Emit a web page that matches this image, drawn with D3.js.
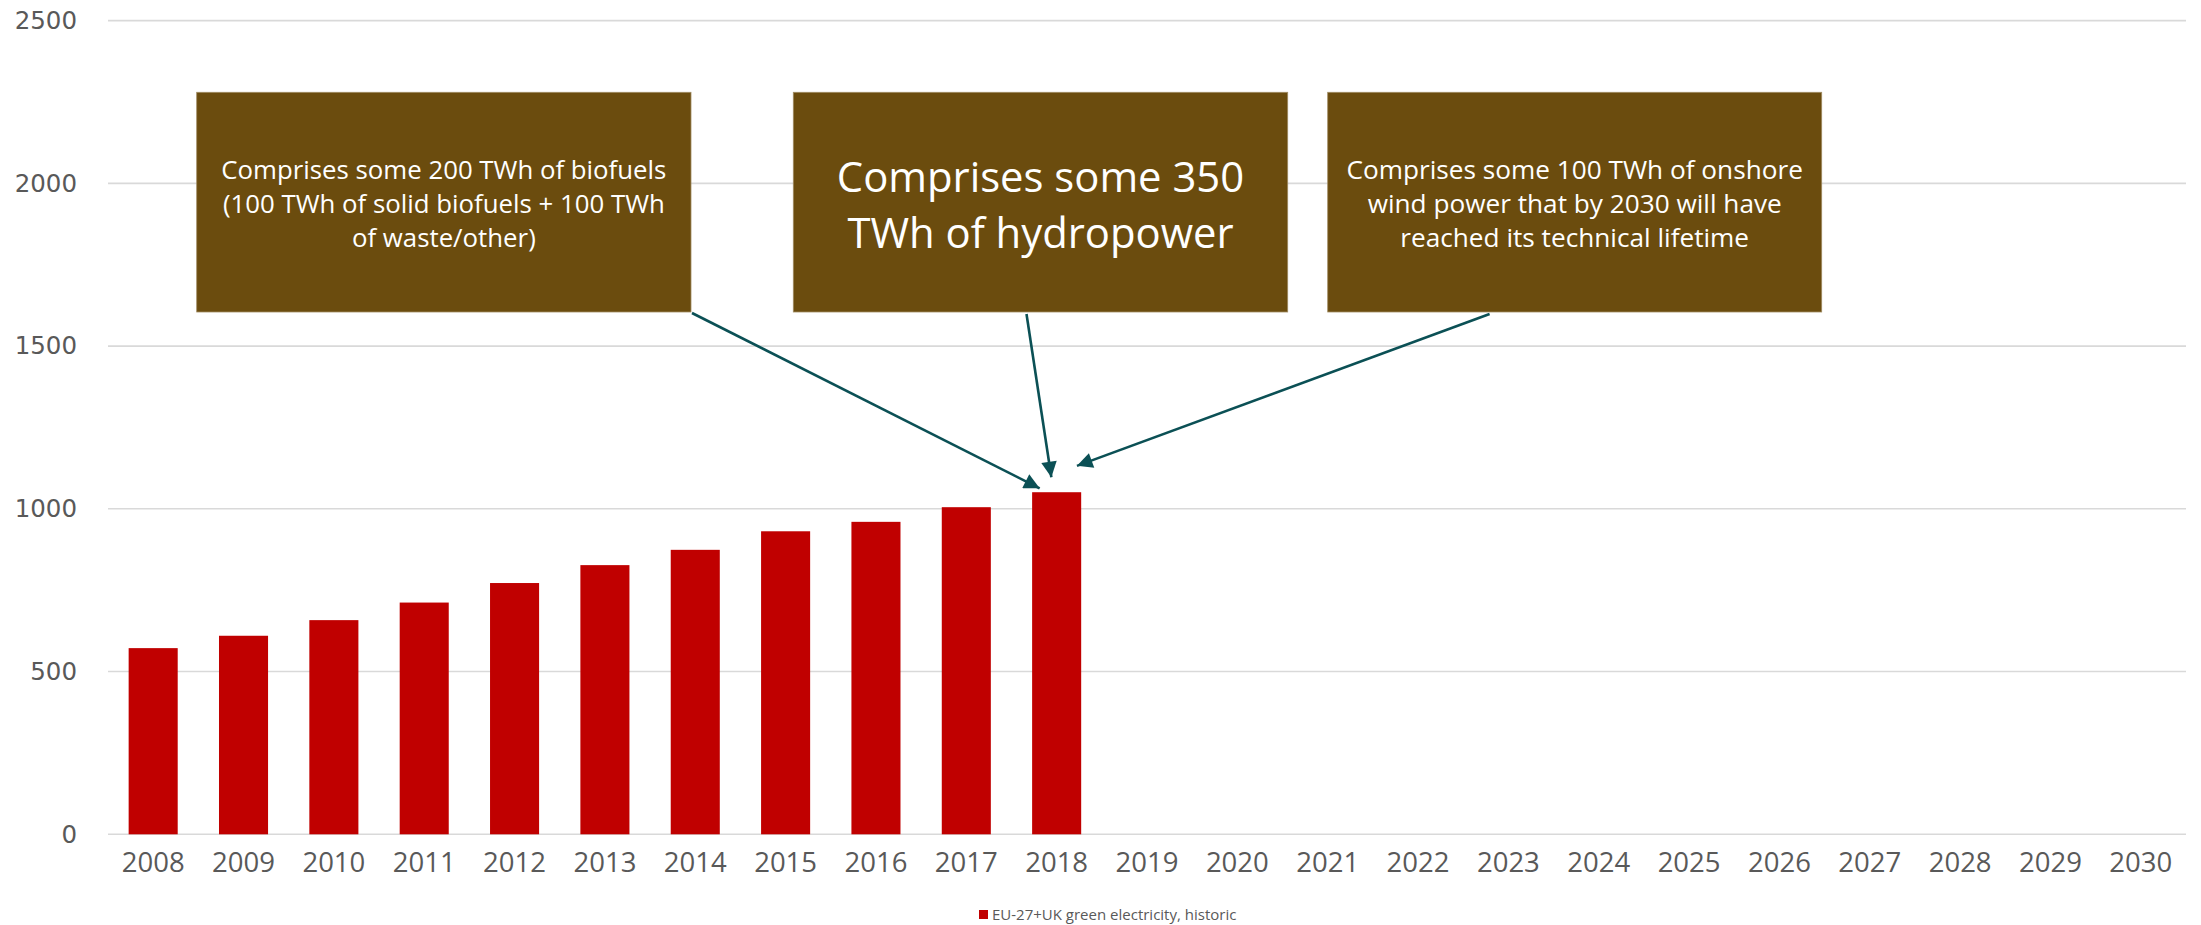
<!DOCTYPE html>
<html>
<head>
<meta charset="utf-8">
<script src="https://cdn.jsdelivr.net/npm/d3@7"></script>
<style>
  html, body { margin: 0; padding: 0; background: #ffffff; }
  svg { display: block; }
</style>
</head>
<body>
<svg id="chart" width="2201" height="925"></svg>
<script>
// Years on the category axis (historic + outlook to 2030)
const years = ["2008","2009","2010","2011","2012","2013","2014","2015","2016","2017","2018",
               "2019","2020","2021","2022","2023","2024","2025","2026","2027","2028","2029","2030"];
// EU-27+UK green electricity, historic (TWh)
const historicYears = ["2008","2009","2010","2011","2012","2013","2014","2015","2016","2017","2018"];
const historicValues = [572, 610, 658, 712, 772, 827, 874, 931, 960, 1005, 1051];
// Value axis ticks (TWh)
const yTicks = [0, 500, 1000, 1500, 2000, 2500];
const seriesName = "EU-27+UK green electricity, historic";

// Call-out notes and where their arrows point (year, TWh)
const noteTexts = [
  ["Comprises some 200 TWh of biofuels", "(100 TWh of solid biofuels + 100 TWh", "of waste/other)"],
  ["Comprises some 350", "TWh of hydropower"],
  ["Comprises some 100 TWh of onshore", "wind power that by 2030 will have", "reached its technical lifetime"]
];
const noteTargetYear = ["2018", "2018", "2018"];
const noteTargetValue = [1063, 1097, 1132];

// ---- layout ----
const svg = d3.select("#chart");
const plot = { left: 108, right: 2186, top: 20.6, bottom: 834.3 };
const barColor = "#c00000";
const noteFill = "#6b4c0e";
const arrowColor = "#0b5055";

const x = d3.scaleBand()
  .domain(years)
  .range([plot.left, plot.right])
  .paddingInner(0.457)
  .paddingOuter(0.2285);

const y = d3.scaleLinear()
  .domain([0, 2500])
  .range([plot.bottom, plot.top]);

// gridlines
svg.append("g")
  .selectAll("line")
  .data(yTicks)
  .join("line")
  .attr("x1", plot.left)
  .attr("x2", plot.right)
  .attr("y1", d => y(d))
  .attr("y2", d => y(d))
  .attr("stroke", "#d9d9d9")
  .attr("stroke-width", 1.6);

// y axis labels
const yAxis = svg.append("g")
  .attr("transform", `translate(${plot.left - 31},0)`)
  .call(d3.axisLeft(y).tickValues(yTicks).tickSize(0).tickPadding(0).tickFormat(d3.format("d")));
yAxis.select(".domain").remove();
yAxis.selectAll("text")
  .attr("font-family", "'DejaVu Sans', sans-serif")
  .attr("font-size", 24.5)
  .attr("fill", "#595959");

// x axis labels
const xAxis = svg.append("g")
  .attr("transform", `translate(0,${plot.bottom})`)
  .call(d3.axisBottom(x).tickSize(0).tickPadding(18));
xAxis.select(".domain").remove();
xAxis.selectAll("text")
  .attr("font-family", "'Open Sans', sans-serif")
  .attr("font-size", 27.5)
  .attr("fill", "#595959");

// bars
svg.append("g")
  .selectAll("rect")
  .data(historicYears.map((yr, i) => ({ year: yr, value: historicValues[i] })))
  .join("rect")
  .attr("x", d => x(d.year))
  .attr("width", x.bandwidth())
  .attr("y", d => y(d.value))
  .attr("height", d => y(0) - y(d.value))
  .attr("fill", barColor);

// arrow marker
svg.append("defs").append("marker")
  .attr("id", "head")
  .attr("viewBox", "0 0 10 10")
  .attr("refX", 10)
  .attr("refY", 5)
  .attr("markerWidth", 7)
  .attr("markerHeight", 6)
  .attr("markerUnits", "strokeWidth")
  .attr("orient", "auto")
  .append("path")
  .attr("d", "M0,0 L10,5 L0,10 Z")
  .attr("fill", arrowColor);

// call-out boxes (pixel layout)
const noteBoxes = [
  { x0: 196.7, x1: 691,    y0: 92.3, y1: 312, size: 25.8, baselines: [179, 212.7, 246.5], from: [692, 313], dx: -17 },
  { x0: 793.3, x1: 1287.7, y0: 92.3, y1: 312, size: 41.8, baselines: [191.5, 247.5],     from: [1026.5, 314], dx: -5.3 },
  { x0: 1327.7, x1: 1821.7, y0: 92.3, y1: 312, size: 26.2, baselines: [179, 212.7, 246.5], from: [1489.6, 314], dx: 20.3 }
];

// arrows
svg.append("g")
  .selectAll("line")
  .data(noteBoxes)
  .join("line")
  .attr("x1", d => d.from[0])
  .attr("y1", d => d.from[1])
  .attr("x2", (d, i) => x(noteTargetYear[i]) + x.bandwidth() / 2 + d.dx)
  .attr("y2", (d, i) => y(noteTargetValue[i]))
  .attr("stroke", arrowColor)
  .attr("stroke-width", 2.6)
  .attr("marker-end", "url(#head)");

const notes = svg.append("g")
  .selectAll("g")
  .data(noteBoxes)
  .join("g");

notes.append("rect")
  .attr("x", d => d.x0)
  .attr("y", d => d.y0)
  .attr("width", d => d.x1 - d.x0)
  .attr("height", d => d.y1 - d.y0)
  .attr("fill", noteFill)
  .attr("stroke", "#a08c63")
  .attr("stroke-width", 0.8);

notes.each(function (d, i) {
  const g = d3.select(this);
  g.selectAll("text")
    .data(noteTexts[i])
    .join("text")
    .attr("x", (d.x0 + d.x1) / 2)
    .attr("y", (t, j) => d.baselines[j])
    .attr("text-anchor", "middle")
    .attr("font-family", "'Open Sans', sans-serif")
    .attr("font-size", d.size)
    .attr("fill", "#ffffff")
    .text(t => t);
});

// legend
const legend = svg.append("g").attr("transform", "translate(979,915)");
legend.append("rect")
  .attr("x", 0).attr("y", -5)
  .attr("width", 9).attr("height", 9)
  .attr("fill", barColor);
legend.append("text")
  .attr("x", 13)
  .attr("y", 0)
  .attr("dy", "0.35em")
  .attr("font-family", "'Open Sans', sans-serif")
  .attr("font-size", 15)
  .attr("fill", "#595959")
  .text(seriesName);
</script>
</body>
</html>
